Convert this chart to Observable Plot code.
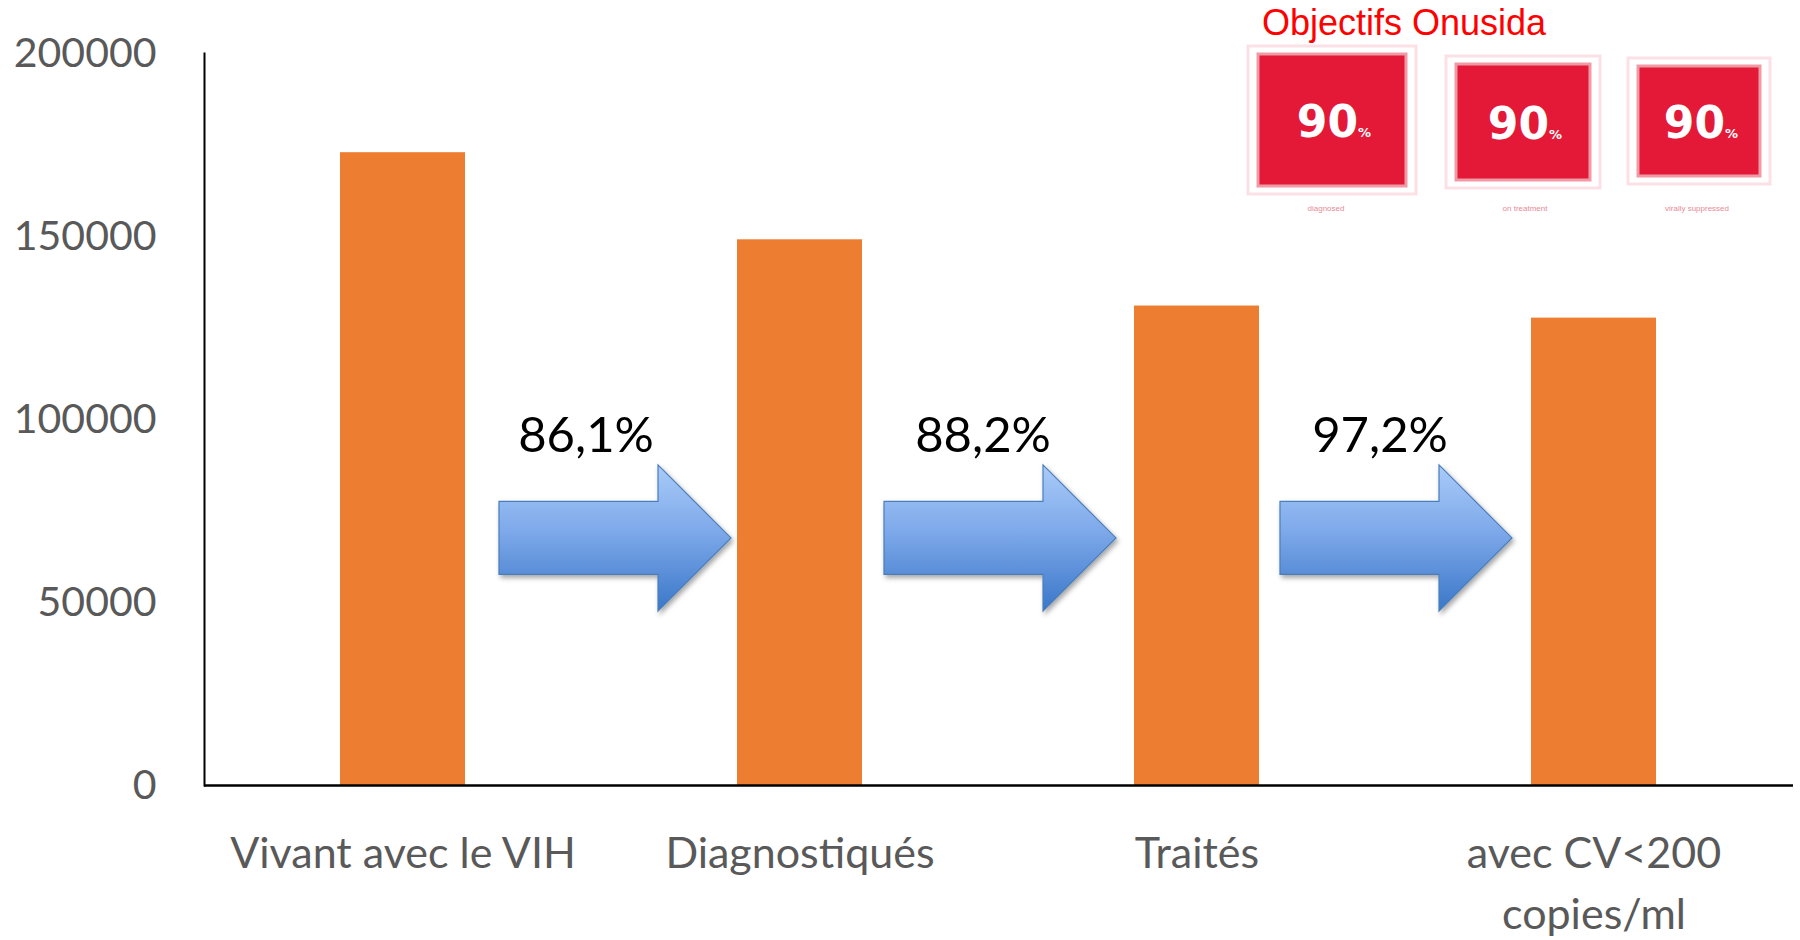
<!DOCTYPE html>
<html><head><meta charset="utf-8">
<script src="https://cdn.jsdelivr.net/npm/d3@7"></script>
<script src="https://cdn.jsdelivr.net/npm/@observablehq/plot@0.6"></script>
<style>html,body{margin:0;padding:0;background:#fff;} #chart{width:1800px;height:940px;}</style>
</head><body><div id="chart"></div>
<script>
// ---- data ----
const categories = ["Vivant avec le VIH", "Diagnostiqués", "Traités", "avec CV<200\ncopies/ml"];
const values = [172900, 149100, 131000, 127700];
const yTicks = [0, 50000, 100000, 150000, 200000];
const stepLabels = ["86,1%", "88,2%", "97,2%"];
const targetTitle = "Objectifs Onusida";
const targetValues = ["90", "90", "90"];
const targetCaptions = ["diagnosed", "on treatment", "virally suppressed"];

const bars = categories.map((c, i) => ({category: c, value: values[i]}));
const steps = stepLabels.map((label, i) => ({from: categories[i], to: categories[i + 1], label}));

// custom mark: block arrows between consecutive bars, positioned via scales
function arrowsMark(index, scales) {
  const x = scales.x, y = scales.y;
  const bw = x.bandwidth ? x.bandwidth() : (x(categories[1]) - x(categories[0])) * 0.315;
  const shift = [14, 2, 1];
  const g = d3.create("svg:g");
  const defs = g.append("defs");
  const grad = defs.append("linearGradient").attr("id", "arrowGrad")
    .attr("x1", 0).attr("y1", 0).attr("x2", 0).attr("y2", 1);
  grad.append("stop").attr("offset", "0%").attr("stop-color", "#a9cbf8");
  grad.append("stop").attr("offset", "45%").attr("stop-color", "#7ea9ea");
  grad.append("stop").attr("offset", "100%").attr("stop-color", "#3a77c8");
  const f = defs.append("filter").attr("id", "arrowShadow")
    .attr("x", "-10%").attr("y", "-10%").attr("width", "130%").attr("height", "130%");
  f.append("feDropShadow").attr("dx", 2).attr("dy", 3).attr("stdDeviation", 2.5)
    .attr("flood-color", "#000").attr("flood-opacity", 0.35);
  const cy = y(67500);
  steps.forEach((s, i) => {
    const x0 = x(s.from) + bw, x1 = x(s.to);
    const gap = x1 - x0;
    const gc = (x0 + x1) / 2;
    const cx = gc + shift[i];
    const half = gap * 0.853 / 2;
    const left = cx - half, tip = cx + half, neck = tip - 73;
    const bh = 36.5, hh = 73;
    const pts = [[left, cy - bh], [neck, cy - bh], [neck, cy - hh], [tip, cy], [neck, cy + hh], [neck, cy + bh], [left, cy + bh]];
    g.append("path")
      .attr("d", "M" + pts.map(p => p.join(",")).join("L") + "Z")
      .attr("fill", "url(#arrowGrad)")
      .attr("stroke", "#4a7ebb").attr("stroke-width", 1.2)
      .attr("filter", "url(#arrowShadow)");
    g.append("text")
      .attr("x", gc - 15).attr("y", y(95500) + 17)
      .attr("text-anchor", "middle")
      .attr("font-family", "Lato, sans-serif").attr("font-size", 49)
      .attr("fill", "#000")
      .text(s.label);
  });
  return g.node();
}

const chart = Plot.plot({
  width: 1800, height: 940,
  marginTop: 53, marginBottom: 155, marginLeft: 204, marginRight: 7,
  style: {fontFamily: "Lato, sans-serif", background: "#fff", color: "#595959"},
  x: {type: "band", domain: categories, paddingInner: 0.685, paddingOuter: 0.3425, align: 0.5},
  y: {domain: [0, 200000]},
  marks: [
    Plot.barY(bars, {x: "category", y: "value", fill: "#ED7D31"}),
    Plot.axisY({ticks: yTicks, tickSize: 0, tickPadding: 48, fontSize: 41, color: "#595959", tickFormat: d => String(d), label: null}),
    Plot.axisX({tickSize: 0, tickPadding: 39, fontSize: 43, color: "#595959", lineHeight: 1.42, label: null}),
    Plot.frame({anchor: "left", stroke: "#000", strokeWidth: 2}),
    Plot.ruleY([0], {stroke: "#000", strokeWidth: 2.5}),
    arrowsMark
  ]
});
document.getElementById("chart").append(chart);

// ---- UNAIDS 90-90-90 badges (decorative) ----
const svg = d3.select(chart);
svg.append("text").attr("x", 1262).attr("y", 35).attr("text-anchor", "start")
  .attr("font-family", "'Liberation Sans', Arial, sans-serif").attr("font-size", 36)
  .attr("fill", "#ff0000").text(targetTitle);
const boxes = [
  {x0: 1258, x1: 1406, y0: 54, y1: 186, cap: 1326},
  {x0: 1456, x1: 1590, y0: 64, y1: 180, cap: 1525},
  {x0: 1638, x1: 1760, y0: 66, y1: 176, cap: 1697}
];
boxes.forEach((b, i) => {
  svg.append("rect").attr("x", b.x0 - 10).attr("y", b.y0 - 8)
    .attr("width", b.x1 - b.x0 + 20).attr("height", b.y1 - b.y0 + 16)
    .attr("fill", "none").attr("stroke", "#fbe1e5").attr("stroke-width", 3);
  svg.append("rect").attr("x", b.x0).attr("y", b.y0)
    .attr("width", b.x1 - b.x0).attr("height", b.y1 - b.y0)
    .attr("fill", "#e31937").attr("stroke", "#f09aa5").attr("stroke-width", 3);
  const t = svg.append("text").attr("x", (b.x0 + b.x1) / 2 + 2).attr("y", (b.y0 + b.y1) / 2 + 17)
    .attr("text-anchor", "middle").attr("fill", "#fff")
    .attr("font-family", "'DejaVu Sans', sans-serif").attr("font-weight", "600").attr("font-size", 44);
  t.append("tspan").text(targetValues[i]);
  t.append("tspan").attr("font-size", 13).text("%");
  svg.append("text").attr("x", b.cap).attr("y", 211).attr("text-anchor", "middle")
    .attr("fill", "#e88a97").attr("font-family", "'Liberation Sans', Arial, sans-serif")
    .attr("font-size", 8).text(targetCaptions[i]);
});
</script>
</body></html>
